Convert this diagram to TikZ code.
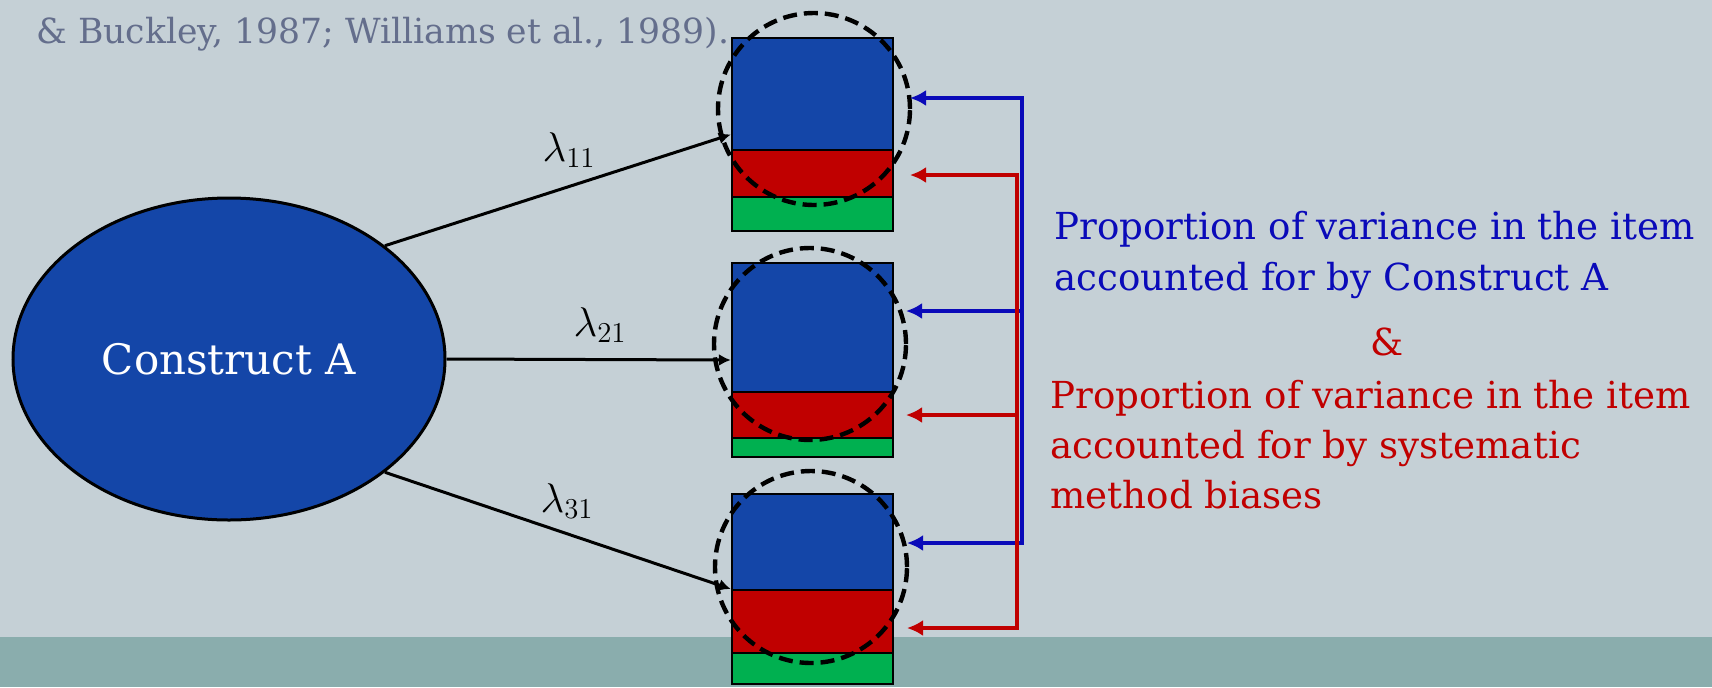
\documentclass[tikz,border=0pt]{standalone}
\usepackage{fontspec}
\setmainfont{DejaVu Serif}
\usepackage{tikz}
\usetikzlibrary{arrows.meta,shapes.geometric,calc}

\definecolor{slidebg}{RGB}{197,208,214}
\definecolor{bandbg}{RGB}{138,173,173}
\definecolor{consblue}{RGB}{20,70,168}
\definecolor{biasred}{RGB}{192,0,0}
\definecolor{errgreen}{RGB}{0,176,80}
\definecolor{textblue}{RGB}{10,10,185}
\definecolor{citegrey}{RGB}{100,110,140}

\tikzset{
  construct/.style={ellipse,draw,line width=1.5pt,fill=consblue,text=white,
    minimum width=216pt,minimum height=161pt,inner sep=0pt,
    font=\fontsize{21}{25}\selectfont},
  itembox/.style={rectangle,draw,line width=1.2pt,minimum width=80.5pt,inner sep=0pt},
  share/.style={circle,draw,line width=2.2pt,dash pattern=on 7pt off 3.5pt,
    minimum size=96pt,inner sep=0pt,outer sep=0pt},
  load/.style={line width=1.5pt,-{Latex[length=6pt,width=6pt]}},
  bus/.style={line width=2pt,draw=#1,{Latex[length=8pt,width=8pt]}-},
  busends/.style={line width=2pt,draw=#1,{Latex[length=8pt,width=8pt]}-{Latex[length=8pt,width=8pt]}},
  bigtext/.style={anchor=base west,inner sep=0pt,font=\fontsize{18.6}{24}\selectfont},
  lam/.style={font=\fontsize{20}{24}\selectfont}
}

\begin{document}
\begin{tikzpicture}[>=Latex,x=0.5pt,y=-0.5pt]
  \clip (0,0) rectangle (1712,687);
  \fill[slidebg] (0,0) rectangle (1712,687);
  \fill[bandbg] (0,637) rectangle (1712,687);

  \node[bigtext,text=citegrey,font=\fontsize{17.3}{22}\selectfont] (cite) at (36,43) {\& Buckley, 1987; Williams et al., 1989).};

  \node[construct] (cons) at (229,359) {Construct A};

  \foreach \i/\top/\mid/\low/\bot in {1/38/150/197/231,2/263/392/438/457,3/494/590/653/684}{
    \fill[consblue] (732,\top) rectangle (893,\mid);
    \fill[biasred] (732,\mid) rectangle (893,\low);
    \fill[errgreen] (732,\low) rectangle (893,\bot);
    \draw[line width=1.2pt] (732,\mid) -- (893,\mid) (732,\low) -- (893,\low);
    \node[itembox,minimum height={(\bot-\top)*0.5pt}] (item\i) at (812.5,{(\top+\bot)/2}) {};
  }

  \node[share] (c1) at (814,109) {};
  \node[share] (c2) at (810,344) {};
  \node[share] (c3) at (811,567) {};

  \draw[load] (cons.36) -- (item1.west);
  \draw[load] (cons.east) -- (item2.west);
  \draw[load] (cons.-36) -- (item3.west);
  \node[lam] (lam11) at (569,150) {$\lambda_{11}$};
  \node[lam] (lam21) at (600,325) {$\lambda_{21}$};
  \node[lam] (lam31) at (567,501) {$\lambda_{31}$};

  \coordinate (btop) at (1022,98);
  \coordinate (bmid) at (1022,311);
  \coordinate (bbot) at (1022,543);
  \draw[busends=textblue] (c1.east |- btop) -- (btop) -- (bbot) -- (c3.east |- bbot);
  \draw[bus=textblue] (c2.east |- bmid) -- (bmid);

  \coordinate (rtop) at (1017,175);
  \coordinate (rmid) at (1017,415);
  \coordinate (rbot) at (1017,628);
  \draw[busends=biasred] (c1.east |- rtop) -- (rtop) -- (rbot) -- (c3.east |- rbot);
  \draw[bus=biasred] (c2.east |- rmid) -- (rmid);

  \node[bigtext,text=textblue] (blue1) at (1054,239) {Proportion of variance in the item};
  \node[bigtext,text=textblue] (blue2) at (1054,290) {accounted for by Construct A};
  \node[bigtext,anchor=base,text=biasred] (amp) at (1387,355) {\&};
  \node[bigtext,text=biasred] (red1) at (1050,408) {Proportion of variance in the item};
  \node[bigtext,text=biasred] (red2) at (1050,458) {accounted for by systematic};
  \node[bigtext,text=biasred] (red3) at (1050,508) {method biases};
\end{tikzpicture}
\end{document}
